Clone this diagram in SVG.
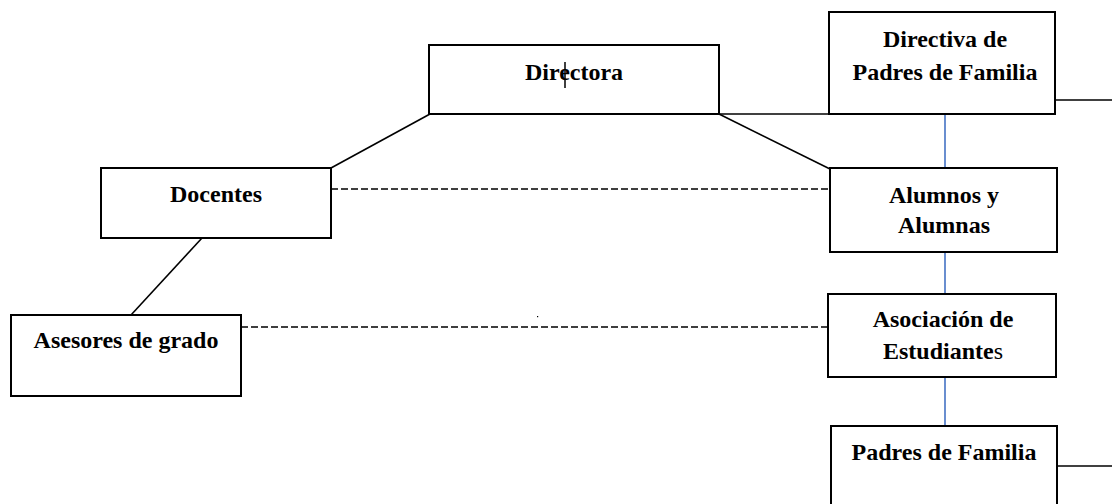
<svg xmlns="http://www.w3.org/2000/svg" width="1112" height="504" viewBox="0 0 1112 504">
<style>
.box{fill:#fff;stroke:#000;stroke-width:2}
.t{font-family:"Liberation Serif","Times New Roman",serif;font-weight:bold;font-size:24px;fill:#000;text-anchor:middle}
.n{font-weight:normal}
.ln{stroke:#000;stroke-width:1.6;fill:none}
.dash{stroke:#000;stroke-width:1.6;stroke-dasharray:7 3;fill:none}
.blue{stroke:#4472C4;stroke-width:1.6;fill:none}
</style>
<rect width="1112" height="504" fill="#fff"/>
<g id="connectors">
<line class="ln" x1="719" y1="114" x2="830" y2="114"/>
<line class="ln" x1="719" y1="114" x2="830" y2="169"/>
<line class="ln" x1="331" y1="168" x2="430" y2="114"/>
<line class="ln" x1="202" y1="238" x2="131" y2="315"/>
<line class="ln" x1="1055" y1="100" x2="1112" y2="100"/>
<line class="ln" x1="1057" y1="466" x2="1112" y2="466"/>
<line class="dash" x1="331" y1="189" x2="830" y2="189"/>
<line class="dash" x1="241" y1="327" x2="828" y2="327"/>
<line class="blue" x1="945" y1="115" x2="945" y2="168"/>
<line class="blue" x1="945" y1="252" x2="945" y2="294"/>
<line class="blue" x1="945" y1="377" x2="945" y2="426"/>
</g>
<rect x="537" y="316" width="1.2" height="1.2" fill="#000"/>
<g id="directora">
<rect class="box" x="429" y="45" width="290" height="69"/>
<text class="t" x="574" y="80">Directora</text>
<line x1="565" y1="62" x2="565" y2="88" stroke="#000" stroke-width="1.5"/>
</g>
<g id="directiva">
<rect class="box" x="829" y="12" width="226" height="102"/>
<text class="t" x="945" y="47">Directiva de</text>
<text class="t" x="945" y="80">Padres de Familia</text>
</g>
<g id="docentes">
<rect class="box" x="101" y="168" width="230" height="70"/>
<text class="t" x="216" y="202">Docentes</text>
</g>
<g id="alumnos">
<rect class="box" x="830" y="168" width="227" height="84"/>
<text class="t" x="944" y="203">Alumnos y</text>
<text class="t" x="944" y="233">Alumnas</text>
</g>
<g id="asesores">
<rect class="box" x="11" y="315" width="230" height="81"/>
<text class="t" x="126" y="348">Asesores de grado</text>
</g>
<g id="asociacion">
<rect class="box" x="828" y="294" width="228" height="83"/>
<text class="t" x="943" y="327">Asociación de</text>
<text class="t" x="943" y="359">Estudiante<tspan class="n">s</tspan></text>
</g>
<g id="padres">
<rect class="box" x="831" y="426" width="226" height="90"/>
<text class="t" x="944" y="460">Padres de Familia</text>
</g>
</svg>
